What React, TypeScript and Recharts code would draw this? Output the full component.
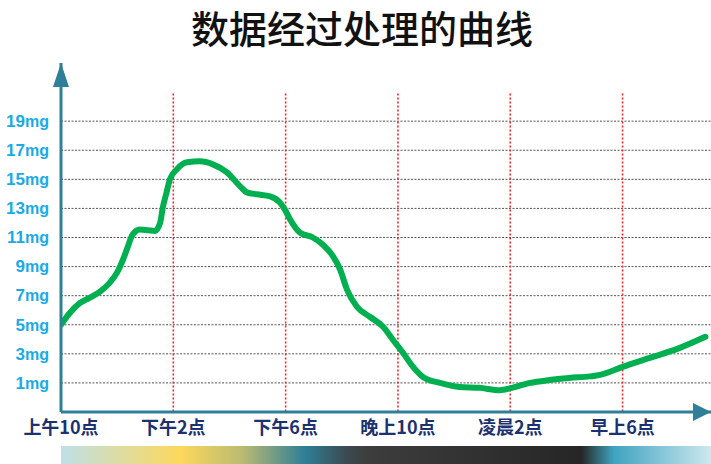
import {
  Line,
  LineChart,
  ReferenceDot,
  ReferenceLine,
  XAxis,
  YAxis,
} from "recharts"

// hours since 10:00, and measured value in mg
const hours = [
  0, 0.32, 0.68, 1.03, 1.39, 1.74, 2.0, 2.17, 2.35, 2.55, 2.81, 3.1, 3.35, 3.53, 3.63,
  3.76, 3.88, 4.13, 4.49, 4.95, 5.41, 5.91, 6.38, 6.62, 6.98, 7.45, 7.8, 7.98, 8.16, 8.51,
  8.97, 9.33, 9.69, 9.94, 10.19, 10.54, 11.0, 11.47, 11.82, 12.18, 12.54, 12.89, 13.5, 14.2,
  14.9, 15.63, 16.06, 16.7, 17.4, 18.1, 18.84, 19.2, 20.0, 20.97, 22.04, 22.95,
]
const mg = [
  5.0, 5.83, 6.5, 6.86, 7.28, 7.9, 8.6, 9.3, 10.2, 11.2, 11.55, 11.5, 11.45, 12.0, 13.1,
  14.1, 15.0, 15.7, 16.17, 16.24, 16.03, 15.48, 14.52, 14.1, 13.97, 13.83, 13.4, 12.9, 12.24,
  11.34, 11.0, 10.5, 9.7, 8.8, 7.4, 6.24, 5.55, 4.86, 3.97, 3.07, 2.1, 1.41, 1.0, 0.72, 0.66,
  0.5, 0.66, 1.0, 1.2, 1.34, 1.45, 1.55, 2.1, 2.72, 3.41, 4.17,
]

const timeTicks = [0, 4, 8, 12, 16, 20]
const timeLabels = ["上午10点", "下午2点", "下午6点", "晚上10点", "凌晨2点", "早上6点"]
const mgTicks = [1, 3, 5, 7, 9, 11, 13, 15, 17, 19]

const data = hours.map((h, i) => ({ h, mg: mg[i] }))

const AXIS = "#2E7F97"

const UpArrow = (props: any) => (
  <polygon
    points={`${props.cx},${props.cy} ${props.cx - 8},${props.cy + 24} ${props.cx + 8},${props.cy + 24}`}
    fill={AXIS}
  />
)
const RightArrow = (props: any) => (
  <polygon
    points={`${props.cx},${props.cy} ${props.cx - 18},${props.cy - 9} ${props.cx - 18},${props.cy + 9}`}
    fill={AXIS}
  />
)

// number in regular bold, unit in a narrow face
const MgTick = (props: any) => {
  const { x, y, payload } = props
  return (
    <text x={x} y={y} dy="0.36em" textAnchor="end" fill="#1AAAE6" fontWeight={700}>
      <tspan fontFamily="'Liberation Sans'" fontSize={17} fontWeight={700}>
        {payload.value}
      </tspan>
      <tspan fontFamily="'Liberation Sans Narrow', 'Liberation Sans'" fontSize={16} fontWeight={700}>
        mg
      </tspan>
    </text>
  )
}

export default function App() {
  return (
    <div style={{ position: "absolute", left: 0, top: 0, width: 711, height: 464, background: "#fff" }}>
      <div
        style={{
          position: "absolute",
          left: 0,
          top: 8,
          width: 724,
          textAlign: "center",
          fontFamily: "'Noto Sans CJK SC'",
          fontWeight: 500,
          fontSize: 38,
          lineHeight: 1,
          color: "#111",
        }}
      >
        数据经过处理的曲线
      </div>
      <LineChart
        width={711}
        height={464}
        data={data}
        margin={{ top: 63, right: 0, bottom: 0, left: 0 }}
      >
        <XAxis
          dataKey="h"
          type="number"
          domain={[0, 23.15]}
          ticks={timeTicks}
          interval={0}
          allowDataOverflow
          height={52}
          tickSize={0}
          tickMargin={9}
          axisLine={{ stroke: AXIS, strokeWidth: 3 }}
          tickFormatter={(v: number) => timeLabels[timeTicks.indexOf(v)] ?? ""}
          tick={{ fill: "#1B3170", fontSize: 18, fontWeight: 700, fontFamily: "'Noto Sans CJK SC'" }}
        />
        <YAxis
          type="number"
          domain={[-1, 23]}
          ticks={mgTicks}
          interval={0}
          allowDataOverflow
          width={61}
          tickSize={0}
          tickMargin={12}
          axisLine={{ stroke: AXIS, strokeWidth: 3 }}
          tick={<MgTick />}
        />
        {mgTicks.map((t) => (
          <ReferenceLine key={"g" + t} y={t} stroke="#555" strokeDasharray="2 1.5" />
        ))}
        {timeTicks.slice(1).map((t) => (
          <ReferenceLine
            key={t}
            segment={[
              { x: t, y: 20.9 },
              { x: t, y: -1 },
            ]}
            stroke="#F02828"
            strokeWidth={1.6}
            strokeDasharray="2 2"
            ifOverflow="visible"
          />
        ))}
        <Line
          type="monotone"
          dataKey="mg"
          stroke="#00B050"
          strokeWidth={6}
          strokeLinecap="round"
          dot={false}
          isAnimationActive={false}
        />
        <ReferenceDot x={0} y={23} ifOverflow="visible" shape={UpArrow} />
        <ReferenceDot x={23.15} y={-1} ifOverflow="visible" shape={RightArrow} />
      </LineChart>
      <div
        style={{
          position: "absolute",
          left: 61,
          top: 446,
          width: 650,
          height: 18,
          background:
            "linear-gradient(to right, #BEE0E6 0%, #FDD85C 18.3%, #B9BA72 28%, #2E7F97 37.5%, #3C4A50 44%, #3D3D3D 47%, #262626 80%, #3FA3C0 85%, #CDE8EF 100%)",
        }}
      />
    </div>
  )
}
